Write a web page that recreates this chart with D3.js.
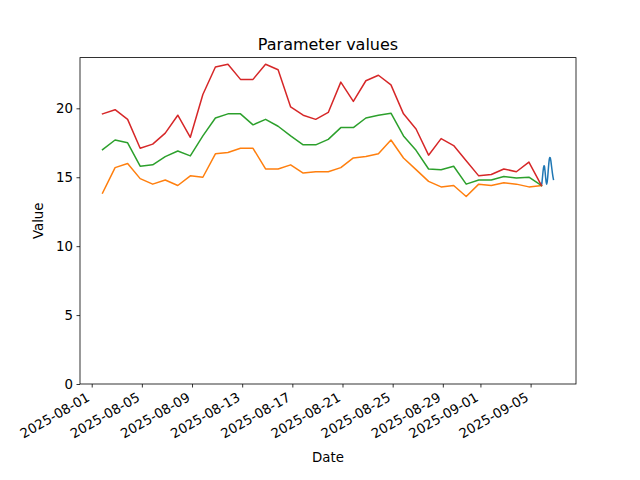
<!DOCTYPE html>
<html><head><meta charset="utf-8">
<script src="https://cdn.jsdelivr.net/npm/d3@7"></script>
<style>body{margin:0;background:#fff}svg{display:block}text{font-family:"DejaVu Sans",sans-serif;fill:#000}</style>
</head><body>
<svg id="c" width="640" height="480"></svg>
<script>
const dailyDates = ["2025-08-01T20:45","2025-08-02T20:45","2025-08-03T20:45","2025-08-04T20:45","2025-08-05T20:45","2025-08-06T20:45","2025-08-07T20:45","2025-08-08T20:45","2025-08-09T20:45","2025-08-10T20:45","2025-08-11T20:45","2025-08-12T20:45","2025-08-13T20:45","2025-08-14T20:45","2025-08-15T20:45","2025-08-16T20:45","2025-08-17T20:45","2025-08-18T20:45","2025-08-19T20:45","2025-08-20T20:45","2025-08-21T20:45","2025-08-22T20:45","2025-08-23T20:45","2025-08-24T20:45","2025-08-25T20:45","2025-08-26T20:45","2025-08-27T20:45","2025-08-28T20:45","2025-08-29T20:45","2025-08-30T20:45","2025-08-31T20:45","2025-09-01T20:45","2025-09-02T20:45","2025-09-03T20:45","2025-09-04T20:45","2025-09-05T20:45"];
const redValues = [19.6,19.9,19.2,17.1,17.4,18.2,19.5,17.9,21.0,23.0,23.2,22.1,22.1,23.2,22.8,20.1,19.5,19.2,19.7,21.9,20.5,22.0,22.4,21.7,19.6,18.5,16.6,17.8,17.3,16.2,15.1,15.2,15.6,15.4,16.1,14.4];
const greenValues = [17.0,17.7,17.5,15.8,15.9,16.5,16.9,16.55,18.0,19.3,19.6,19.6,18.8,19.2,18.7,18.0,17.35,17.35,17.75,18.6,18.6,19.3,19.5,19.65,18.0,16.95,15.6,15.55,15.8,14.5,14.8,14.8,15.05,14.95,15.0,14.4];
const orangeValues = [13.85,15.7,16.0,14.9,14.5,14.8,14.4,15.1,15.0,16.7,16.8,17.1,17.1,15.6,15.6,15.9,15.3,15.4,15.4,15.7,16.4,16.5,16.7,17.7,16.4,15.55,14.7,14.3,14.4,13.6,14.5,14.4,14.6,14.5,14.3,14.4];
const hourlyDates = ["2025-09-05T20:45","2025-09-05T21:45","2025-09-05T22:45","2025-09-05T23:45","2025-09-06T00:45","2025-09-06T01:45","2025-09-06T02:45","2025-09-06T03:45","2025-09-06T04:45","2025-09-06T05:45","2025-09-06T06:45","2025-09-06T07:45","2025-09-06T08:45","2025-09-06T09:45","2025-09-06T10:45","2025-09-06T11:45","2025-09-06T12:45","2025-09-06T13:45","2025-09-06T14:45","2025-09-06T15:45","2025-09-06T16:45","2025-09-06T17:45","2025-09-06T18:45","2025-09-06T19:45"];
const blueValues = [14.4,14.6,15.0,15.4,15.7,15.84,15.75,15.4,15.0,14.65,14.5,14.65,15.0,15.5,15.95,16.3,16.43,16.4,16.2,15.9,15.6,15.3,15.05,14.85];
const xTickLabels = ["2025-08-01","2025-08-05","2025-08-09","2025-08-13","2025-08-17","2025-08-21","2025-08-25","2025-08-29","2025-09-01","2025-09-05"];
const yTickValues = [0,5,10,15,20];
const titleText = "Parameter values", xLabel = "Date", yLabel = "Value";

const parse = d3.utcParse("%Y-%m-%dT%H:%M");
const parseDay = d3.utcParse("%Y-%m-%d");
const L=80,R=576,T=57.6,B=384;
const series = [
  {color:"#1f77b4", dates:hourlyDates, values:blueValues},
  {color:"#ff7f0e", dates:dailyDates, values:orangeValues},
  {color:"#2ca02c", dates:dailyDates, values:greenValues},
  {color:"#d62728", dates:dailyDates, values:redValues}
];
series.forEach(s=>s.pts=s.dates.map((d,i)=>[parse(d),s.values[i]]));
const allPts = series.flatMap(s=>s.pts);
const [t0,t1] = d3.extent(allPts,p=>+p[0]);
const span=t1-t0;
const x = d3.scaleUtc().domain([new Date(t0-0.05*span), new Date(t1+0.05*span)]).range([L,R]);
const [vmin,vmax] = d3.extent(allPts,p=>p[1]);
const y = d3.scaleLinear().domain([0, vmax+0.05*(vmax-vmin)]).range([B,T]);

const svg = d3.select("#c");
const line = d3.line().x(p=>x(p[0])).y(p=>y(p[1]));
const plot = svg.append("g");
series.forEach(s=>{
  plot.append("path").attr("d",line(s.pts)).attr("fill","none").attr("stroke",s.color)
    .attr("stroke-width",1.5).attr("stroke-linejoin","round").attr("stroke-linecap","square");
});

// frame
svg.append("rect").attr("x",L).attr("y",T).attr("width",R-L).attr("height",B-T)
  .attr("fill","none").attr("stroke","#000").attr("stroke-width",0.8);

// x axis
const xg = svg.append("g").attr("transform",`translate(0,${B})`);
const xAxis = d3.axisBottom(x).tickValues(xTickLabels.map(parseDay)).tickSize(3.5).tickPadding(0).tickFormat(d3.utcFormat("%Y-%m-%d"));
xg.call(xAxis);
xg.select(".domain").remove();
xg.selectAll(".tick line").attr("stroke","#000").attr("stroke-width",0.8);
xg.selectAll(".tick text").attr("font-size","13.33px").attr("text-anchor","end")
  .attr("dy",null).attr("y",null)
  .attr("transform","translate(-1.5,16) rotate(-30)");

// y axis
const yg = svg.append("g").attr("transform",`translate(${L},0)`);
yg.call(d3.axisLeft(y).tickValues(yTickValues).tickSize(3.5).tickPadding(3.5));
yg.select(".domain").remove();
yg.selectAll(".tick line").attr("stroke","#000").attr("stroke-width",0.8);
yg.selectAll(".tick text").attr("font-size","13.33px").attr("font-family","DejaVu Sans").attr("dy","0.35em");

svg.append("text").attr("x",(L+R)/2).attr("y",50).attr("text-anchor","middle").attr("font-size","16px").text(titleText);
svg.append("text").attr("x",(L+R)/2).attr("y",462).attr("text-anchor","middle").attr("font-size","13.33px").text(xLabel);
svg.append("text").attr("transform",`translate(43,${(T+B)/2}) rotate(-90)`).attr("text-anchor","middle").attr("font-size","13.33px").text(yLabel);
</script>
</body></html>
